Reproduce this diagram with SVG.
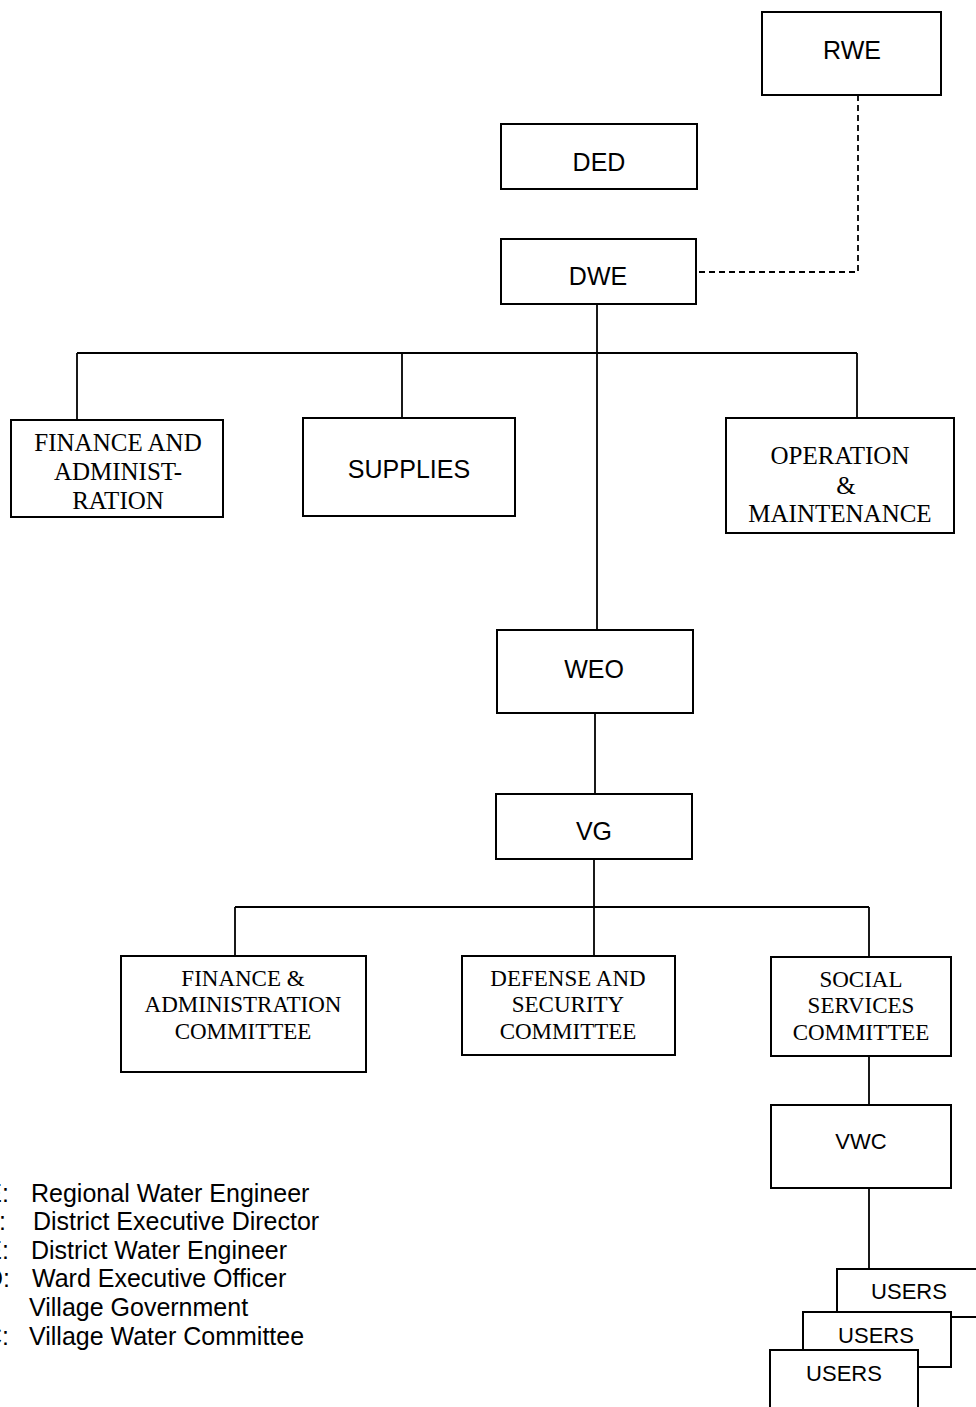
<svg xmlns="http://www.w3.org/2000/svg" width="976" height="1407" viewBox="0 0 976 1407">
  <style>
    .box { fill: #fff; stroke: #000; stroke-width: 2; }
    .ln { fill: none; stroke: #000; stroke-width: 1.8; }
    .dash { fill: none; stroke: #000; stroke-width: 1.8; stroke-dasharray: 6 4; }
    .sans { font-family: "Liberation Sans", Arial, sans-serif; font-size: 25px; fill: #000; }
    .small { font-size: 22px; }
    .serif { font-family: "Liberation Serif", "Times New Roman", serif; font-size: 25px; fill: #000; }
    .cmt { font-size: 23px; }
    .legend { font-family: "Liberation Sans", Arial, sans-serif; font-size: 25px; fill: #000; }
    .c { text-anchor: middle; }
  </style>
  <rect width="976" height="1407" fill="#fff"/>

  <g id="connectors">
    <polyline class="dash" points="858,95 858,272 697,272"/>
    <line class="ln" x1="597" y1="304" x2="597" y2="630"/>
    <line class="ln" x1="77" y1="353" x2="857" y2="353"/>
    <line class="ln" x1="77" y1="353" x2="77" y2="420"/>
    <line class="ln" x1="402" y1="353" x2="402" y2="418"/>
    <line class="ln" x1="857" y1="353" x2="857" y2="418"/>
    <line class="ln" x1="595" y1="713" x2="595" y2="794"/>
    <line class="ln" x1="594" y1="859" x2="594" y2="956"/>
    <line class="ln" x1="235" y1="907" x2="869" y2="907"/>
    <line class="ln" x1="235" y1="907" x2="235" y2="956"/>
    <line class="ln" x1="869" y1="907" x2="869" y2="957"/>
    <line class="ln" x1="869" y1="1056" x2="869" y2="1105"/>
    <line class="ln" x1="869" y1="1188" x2="869" y2="1269"/>
  </g>

  <g id="rwe">
    <rect class="box" x="762" y="12" width="179" height="83"/>
    <text class="sans c" x="852" y="59">RWE</text>
  </g>
  <g id="ded">
    <rect class="box" x="501" y="124" width="196" height="65"/>
    <text class="sans c" x="599" y="171">DED</text>
  </g>
  <g id="dwe">
    <rect class="box" x="501" y="239" width="195" height="65"/>
    <text class="sans c" x="598" y="285">DWE</text>
  </g>
  <g id="finance-admin">
    <rect class="box" x="11" y="420" width="212" height="97"/>
    <text class="serif c" x="118" y="451">FINANCE AND</text>
    <text class="serif c" x="118" y="480">ADMINIST-</text>
    <text class="serif c" x="118" y="509">RATION</text>
  </g>
  <g id="supplies">
    <rect class="box" x="303" y="418" width="212" height="98"/>
    <text class="sans c" x="409" y="478">SUPPLIES</text>
  </g>
  <g id="operation">
    <rect class="box" x="726" y="418" width="228" height="115"/>
    <text class="serif c" x="840" y="464">OPERATION</text>
    <text class="serif c" x="846" y="494">&amp;</text>
    <text class="serif c" x="840" y="522">MAINTENANCE</text>
  </g>
  <g id="weo">
    <rect class="box" x="497" y="630" width="196" height="83"/>
    <text class="sans c" x="594" y="678">WEO</text>
  </g>
  <g id="vg">
    <rect class="box" x="496" y="794" width="196" height="65"/>
    <text class="sans c" x="594" y="840">VG</text>
  </g>
  <g id="finance-committee">
    <rect class="box" x="121" y="956" width="245" height="116"/>
    <text class="serif cmt c" x="243" y="986">FINANCE &amp;</text>
    <text class="serif cmt c" x="243" y="1012">ADMINISTRATION</text>
    <text class="serif cmt c" x="243" y="1039">COMMITTEE</text>
  </g>
  <g id="defense-committee">
    <rect class="box" x="462" y="956" width="213" height="99"/>
    <text class="serif cmt c" x="568" y="986">DEFENSE AND</text>
    <text class="serif cmt c" x="568" y="1012">SECURITY</text>
    <text class="serif cmt c" x="568" y="1039">COMMITTEE</text>
  </g>
  <g id="social-committee">
    <rect class="box" x="771" y="957" width="180" height="99"/>
    <text class="serif cmt c" x="861" y="987">SOCIAL</text>
    <text class="serif cmt c" x="861" y="1013">SERVICES</text>
    <text class="serif cmt c" x="861" y="1040">COMMITTEE</text>
  </g>
  <g id="vwc">
    <rect class="box" x="771" y="1105" width="180" height="83"/>
    <text class="sans small c" x="861" y="1149">VWC</text>
  </g>
  <g id="users">
    <rect class="box" x="837" y="1269" width="150" height="48"/>
    <text class="sans small c" x="909" y="1299">USERS</text>
    <rect class="box" x="803" y="1312" width="148" height="55"/>
    <text class="sans small c" x="876" y="1343">USERS</text>
    <rect class="box" x="770" y="1350" width="148" height="70"/>
    <text class="sans small c" x="844" y="1381">USERS</text>
  </g>

  <g id="legend" class="legend">
    <text x="9" y="1202" text-anchor="end">RWE:</text>
    <text x="31" y="1202">Regional Water Engineer</text>
    <text x="6" y="1230" text-anchor="end">DED:</text>
    <text x="33" y="1230">District Executive Director</text>
    <text x="9" y="1259" text-anchor="end">DWE:</text>
    <text x="31" y="1259">District Water Engineer</text>
    <text x="10" y="1287" text-anchor="end">WEO:</text>
    <text x="32" y="1287">Ward Executive Officer</text>
    <text x="29" y="1316">Village Government</text>
    <text x="9" y="1345" text-anchor="end">VWC:</text>
    <text x="29" y="1345">Village Water Committee</text>
  </g>
</svg>
